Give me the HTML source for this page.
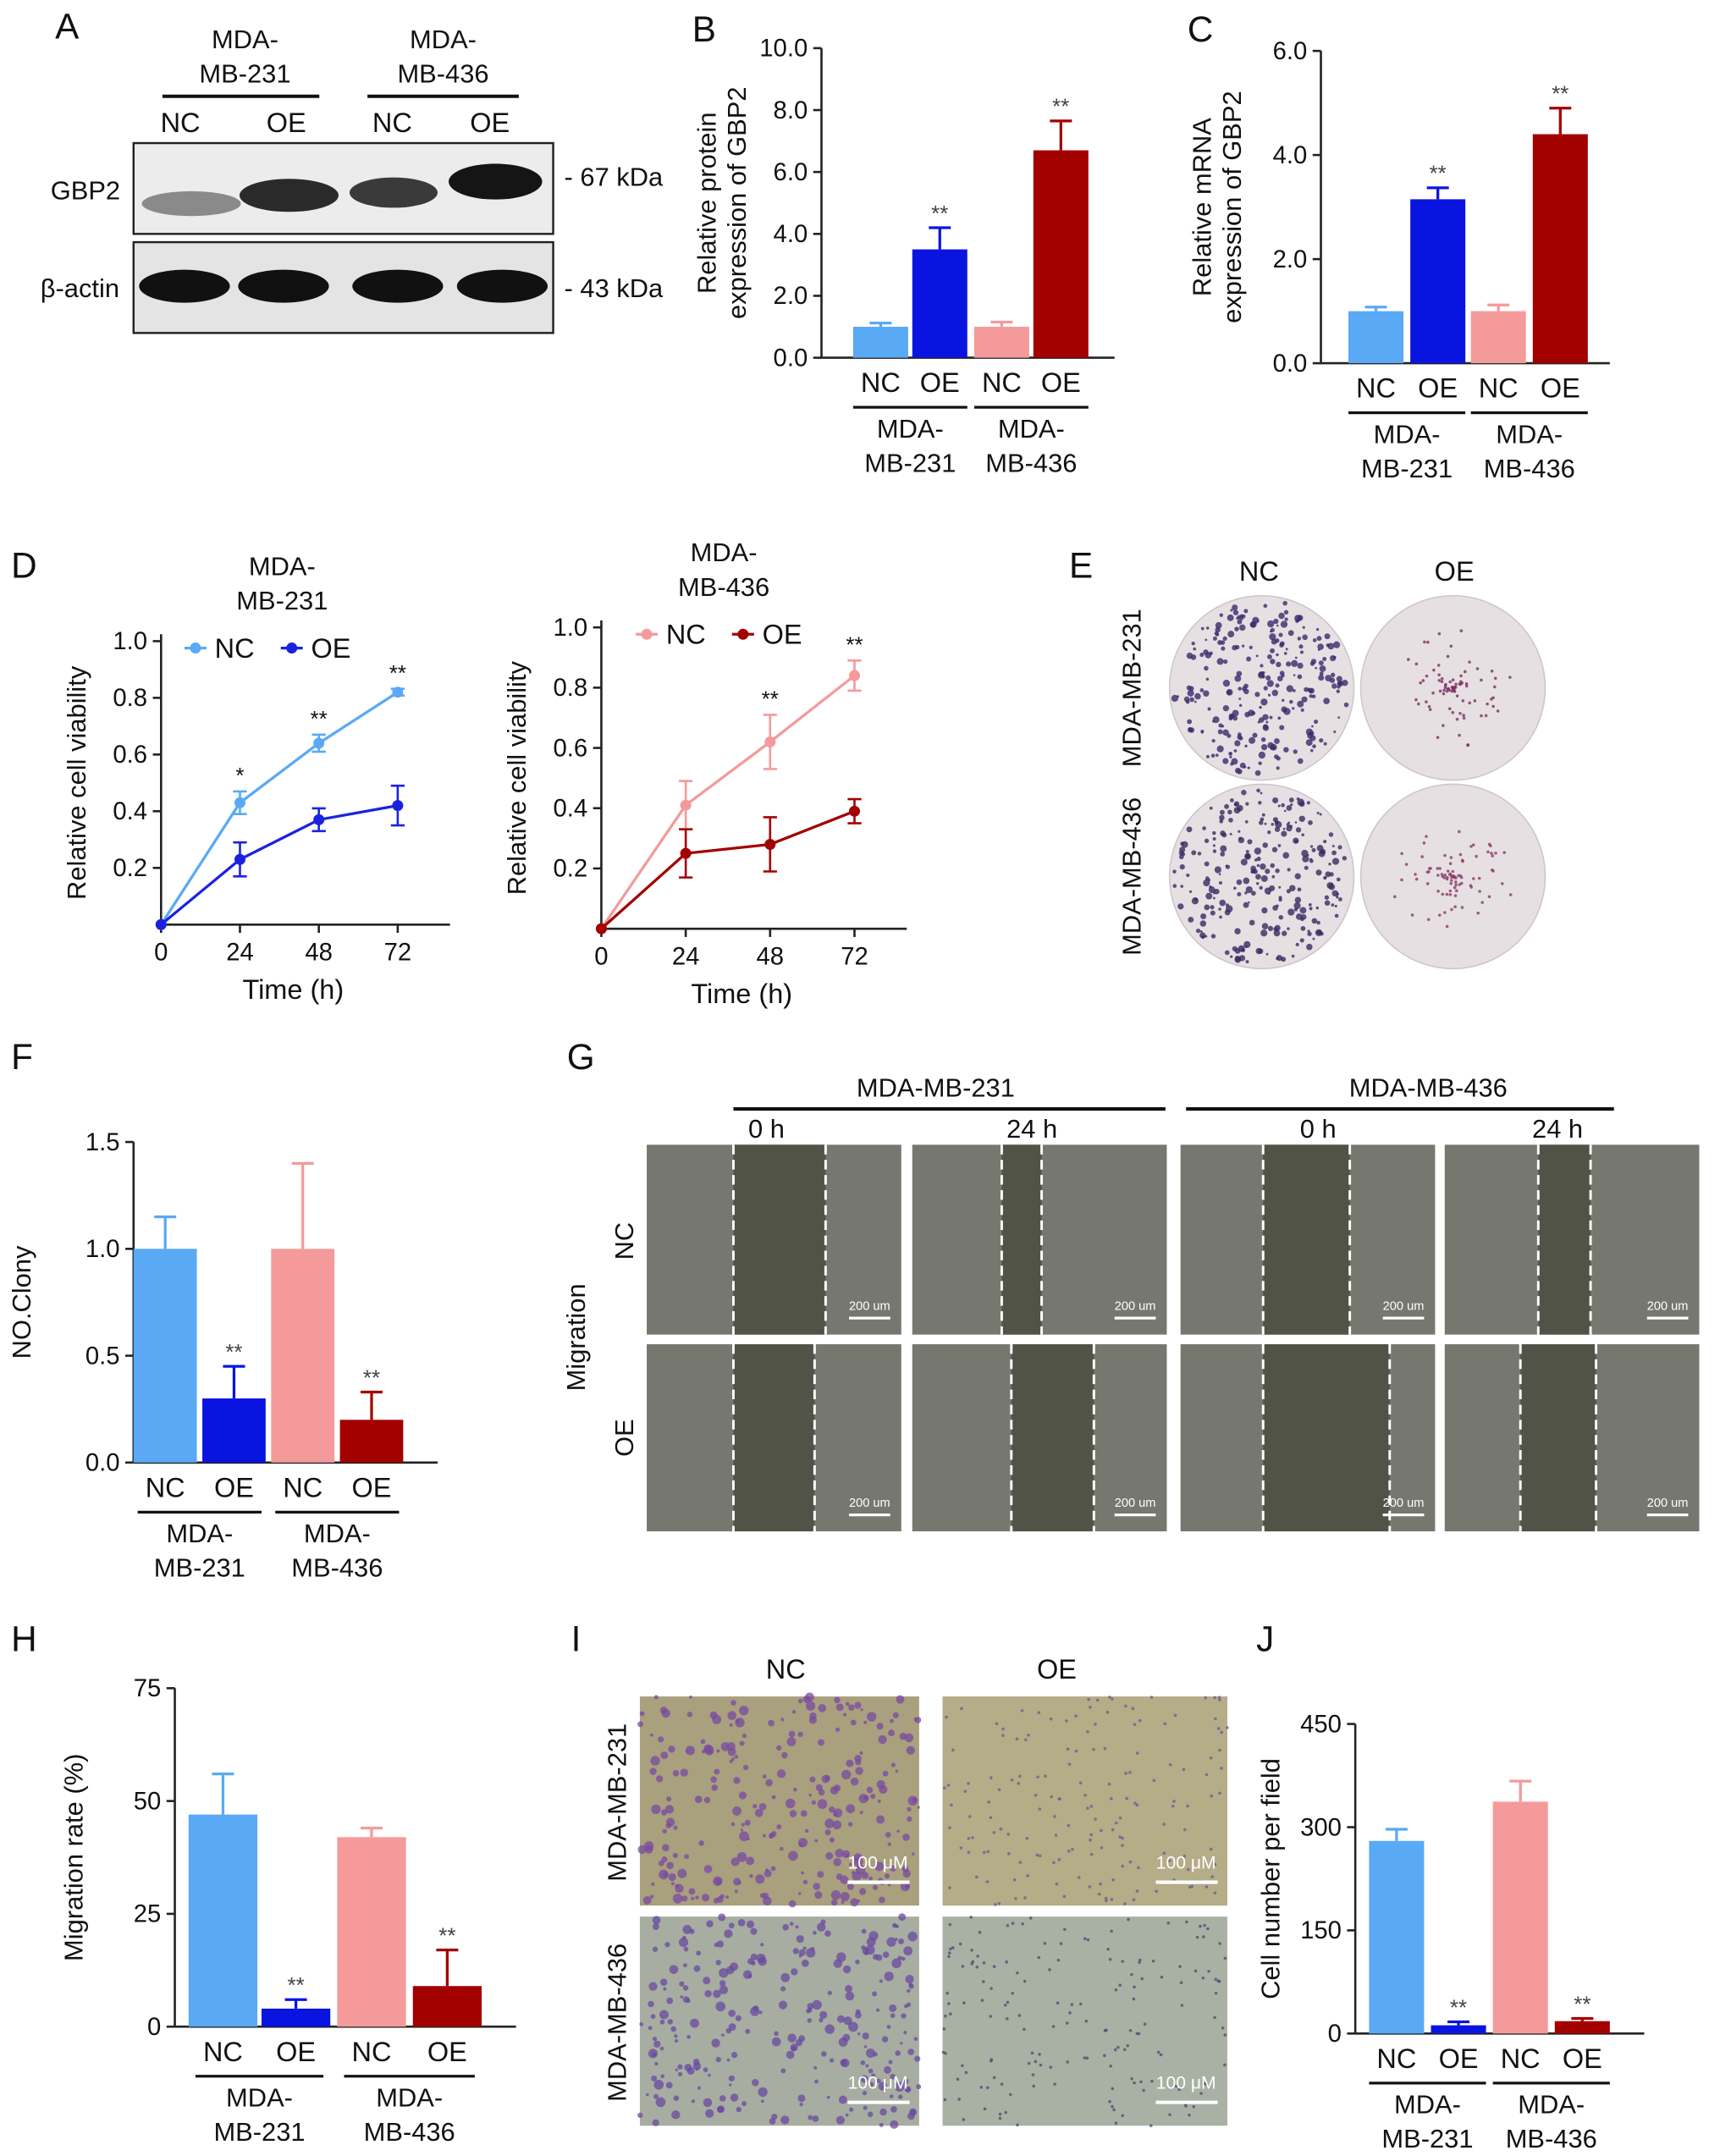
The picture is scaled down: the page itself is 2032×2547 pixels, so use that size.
<!DOCTYPE html>
<html><head><meta charset="utf-8"><style>
html,body{margin:0;padding:0;background:#fff}
svg{display:block;font-family:"Liberation Sans",Arial,sans-serif}
</style></head><body>
<svg id="fig" width="2032" height="2547" viewBox="0 0 1250 1567" xmlns="http://www.w3.org/2000/svg"></svg>
<script>
// ---- data ----
const barCats = ["NC","OE","NC","OE"];
const groupLabels = ["MDA-MB-231","MDA-MB-436"];
const colors = ["#59a9f5","#0a14e0","#f49a9a","#a30000"];
const bValues = [1.0,3.5,1.0,6.7];
const bErrors = [0.12,0.7,0.15,0.95];
const bTicks = ["0.0","2.0","4.0","6.0","8.0","10.0"];
const cValues = [1.0,3.15,1.0,4.4];
const cErrors = [0.08,0.22,0.12,0.5];
const cTicks = ["0.0","2.0","4.0","6.0"];
const fValues = [1.0,0.3,1.0,0.2];
const fErrors = [0.15,0.15,0.4,0.13];
const fTicks = ["0.0","0.5","1.0","1.5"];
const hValues = [47,4,42,9];
const hErrors = [9,2,2,8];
const hTicks = ["0","25","50","75"];
const jValues = [280,12,337,18];
const jErrors = [17,5,30,4];
const jTicks = ["0","150","300","450"];
const timePoints = [0,24,48,72];
const d231NC = [0,0.43,0.64,0.82], d231NCerr=[0,0.04,0.03,0.012];
const d231OE = [0,0.23,0.37,0.42], d231OEerr=[0,0.06,0.04,0.07];
const d436NC = [0,0.41,0.62,0.84], d436NCerr=[0,0.08,0.09,0.05];
const d436OE = [0,0.25,0.28,0.39], d436OEerr=[0,0.08,0.09,0.04];
const dStars = ["*","**","**"];

const NS="http://www.w3.org/2000/svg";
const svg=document.getElementById('fig');
function el(tag,attrs,parent){const e=document.createElementNS(NS,tag);for(const k in attrs)e.setAttribute(k,attrs[k]);(parent||svg).appendChild(e);return e;}
function txt(x,y,s,size,anchor,parent,extra){const t=el('text',Object.assign({x:x,y:y,'font-size':size,'text-anchor':anchor||'middle',fill:'#111'},extra||{}),parent);t.textContent=s;return t;}
function panelLetter(x,y,s){const t=txt(x,y,s,26,'start');}
let seed=12345;function rnd(){seed=(seed*1103515245+12345)%2147483648;return seed/2147483648;}

function barChart(o){
  const g=el('g',{});
  
  
  const y=v=>o.y0-(v/o.max)*(o.y0-o.ytop);
  el('line',{x1:o.ax,y1:o.ytop,x2:o.ax,y2:o.y0,stroke:'#222','stroke-width':1.6},g);
  el('line',{x1:o.ax,y1:o.y0,x2:o.xend,y2:o.y0,stroke:'#222','stroke-width':1.6},g);
  o.ticks.forEach((t,i)=>{const v=i*o.max/(o.ticks.length-1);const yy=y(v);
    el('line',{x1:o.ax-6,y1:yy,x2:o.ax,y2:yy,stroke:'#222','stroke-width':1.6},g);
    txt(o.ax-10,yy+6,t,18,'end',g);});
  const centers=[];
  o.values.forEach((v,i)=>{const x=o.bx[i];const w=o.bw;const yt=y(v);
    const r=el('rect',{x:x,y:yt,width:w,height:o.y0-yt,fill:colors[i]},g);
    
    
    const ye=y(v+o.errors[i]);const cx=x+w/2;
    el('line',{x1:cx,y1:yt,x2:cx,y2:ye,stroke:colors[i],'stroke-width':2},g);
    el('line',{x1:cx-8,y1:ye,x2:cx+8,y2:ye,stroke:colors[i],'stroke-width':2},g);
    if(i%2==1) txt(cx,ye-5,'**',16,'middle',g,{fill:'#444'});
    centers.push(cx);
    txt(cx,o.y0+25,barCats[i],20,'middle',g);});
  [0,1].forEach(k=>{const a=centers[2*k]-20,b=centers[2*k+1]+20;
    el('line',{x1:a,y1:o.y0+36,x2:b,y2:o.y0+36,stroke:'#111','stroke-width':2},g);
    const m=(a+b)/2;txt(m,o.y0+58,'MDA-',19,'middle',g);txt(m,o.y0+83,groupLabels[k].slice(4),19,'middle',g);});
  o.title.forEach((s,i)=>{txt(0,0,s,19,'middle',g,{transform:`translate(${o.tx+i*22},${(o.ytop+o.y0)/2}) rotate(-90)`});});
}
barChart({name:'chart-b',ax:597,ytop:35,y0:260,max:10,xend:810,ticks:bTicks,values:bValues,errors:bErrors,bx:[620,663,708,751],bw:40,title:['Relative protein','expression of GBP2'],tx:520});
barChart({name:'chart-c',ax:960,ytop:37,y0:264,max:6,xend:1170,ticks:cTicks,values:cValues,errors:cErrors,bx:[980,1025,1069,1114],bw:40,title:['Relative mRNA','expression of GBP2'],tx:880});
barChart({name:'chart-f',ax:97,ytop:830,y0:1063,max:1.5,xend:318,ticks:fTicks,values:fValues,errors:fErrors,bx:[97,147,197,247],bw:46,title:['NO.Clony'],tx:22});
barChart({name:'chart-h',ax:127,ytop:1227,y0:1473,max:75,xend:375,ticks:hTicks,values:hValues,errors:hErrors,bx:[137,190,245,300],bw:50,title:['Migration rate (%)'],tx:60});
barChart({name:'chart-j',ax:985,ytop:1253,y0:1478,max:450,xend:1195,ticks:jTicks,values:jValues,errors:jErrors,bx:[995,1040,1085,1130],bw:40,title:['Cell number per field'],tx:930});

function lineChart(o){
  const g=el('g',{});
  
  
  const y=v=>o.y0-v*(o.y0-o.ytop);
  const x=t=>o.ax+t/72*(o.x72-o.ax);
  el('line',{x1:o.ax,y1:o.ytop-5,x2:o.ax,y2:o.y0,stroke:'#222','stroke-width':1.6},g);
  el('line',{x1:o.ax,y1:o.y0,x2:o.x72+38,y2:o.y0,stroke:'#222','stroke-width':1.6},g);
  [0.2,0.4,0.6,0.8,1.0].forEach(v=>{el('line',{x1:o.ax-6,y1:y(v),x2:o.ax,y2:y(v),stroke:'#222','stroke-width':1.6},g);txt(o.ax-10,y(v)+6,v.toFixed(1),18,'end',g);});
  timePoints.forEach(t=>{el('line',{x1:x(t),y1:o.y0,x2:x(t),y2:o.y0+6,stroke:'#222','stroke-width':1.6},g);txt(x(t),o.y0+26,String(t),18,'middle',g);});
  txt((o.ax+o.x72)/2+10,o.y0+54,'Time (h)',20,'middle',g);
  txt(0,0,'Relative cell viability',19,'middle',g,{transform:`translate(${o.ax-55},${(o.ytop+o.y0)/2}) rotate(-90)`});
  [[o.nc,o.ncErr,o.c1],[o.oe,o.oeErr,o.c2]].forEach(([vals,errs,c])=>{
    el('polyline',{points:vals.map((v,i)=>x(timePoints[i])+','+y(v)).join(' '),fill:'none',stroke:c,'stroke-width':2},g);
    vals.forEach((v,i)=>{const cx=x(timePoints[i]);
      if(errs[i]>0){el('line',{x1:cx,y1:y(v-errs[i]),x2:cx,y2:y(v+errs[i]),stroke:c,'stroke-width':1.6},g);
      [v-errs[i],v+errs[i]].forEach(e=>el('line',{x1:cx-5,y1:y(e),x2:cx+5,y2:y(e),stroke:c,'stroke-width':1.6},g));}
      el('circle',{cx:cx,cy:y(v),r:4,fill:c},g);});
  });
  o.nc.slice(1).forEach((v,i)=>{if(o.stars[i])txt(x(timePoints[i+1]),y(v+o.ncErr[i+1])-6,o.stars[i],16,'middle',g);});
  txt(o.tcx,o.ytop-48,'MDA-',19,'middle',g);txt(o.tcx,o.ytop-23,o.tt,19,'middle',g);
  const lx=o.lx,ly=o.ytop+5;
  el('line',{x1:lx,y1:ly,x2:lx+16,y2:ly,stroke:o.c1,'stroke-width':2},g);el('circle',{cx:lx+8,cy:ly,r:4,fill:o.c1},g);txt(lx+22,ly+7,'NC',20,'start',g);
  el('line',{x1:lx+70,y1:ly,x2:lx+86,y2:ly,stroke:o.c2,'stroke-width':2},g);el('circle',{cx:lx+78,cy:ly,r:4,fill:o.c2},g);txt(lx+92,ly+7,'OE',20,'start',g);
}
lineChart({name:'chart-d-231',ax:117,x72:289,ytop:466,y0:672,nc:d231NC,ncErr:d231NCerr,oe:d231OE,oeErr:d231OEerr,c1:'#59a9f5',c2:'#1a22e0',stars:dStars,tcx:205,tt:'MB-231',lx:134});
lineChart({name:'chart-d-436',ax:437,x72:621,ytop:456,y0:675,nc:d436NC,ncErr:d436NCerr,oe:d436OE,oeErr:d436OEerr,c1:'#f49a9a',c2:'#a30000',stars:[null,'**','**'],tcx:526,tt:'MB-436',lx:462});

panelLetter(40,28,'A');panelLetter(503,30,'B');panelLetter(863,30,'C');panelLetter(8,420,'D');panelLetter(777,420,'E');
panelLetter(8,777,'F');panelLetter(412,777,'G');panelLetter(8,1200,'H');panelLetter(415,1200,'I');panelLetter(913,1200,'J');

// ---- Panel A western blot ----
const wb=el('g',{});
txt(178,35,'MDA-',19,'middle',wb);txt(178,60,'MB-231',19,'middle',wb);txt(322,35,'MDA-',19,'middle',wb);txt(322,60,'MB-436',19,'middle',wb);
el('line',{x1:118,y1:70,x2:232,y2:70,stroke:'#111','stroke-width':2.5},wb);el('line',{x1:267,y1:70,x2:377,y2:70,stroke:'#111','stroke-width':2.5},wb);
[[131,'NC'],[208,'OE'],[285,'NC'],[356,'OE']].forEach(([x,s])=>txt(x,96,s,20,'middle',wb));
el('rect',{x:97,y:104,width:305,height:66,fill:'#ececec',stroke:'#222','stroke-width':1.5},wb);
el('rect',{x:97,y:176,width:305,height:66,fill:'#e4e4e4',stroke:'#222','stroke-width':1.5},wb);
[[139,148,36,9,'#8a8a8a'],[210,142,36,12,'#2a2a2a'],[286,140,32,11,'#3a3a3a'],[360,132,34,13,'#151515']].forEach(b=>el('ellipse',{cx:b[0],cy:b[1],rx:b[2],ry:b[3],fill:b[4]},wb));
[134,206,289,365].forEach(x=>el('ellipse',{cx:x,cy:208,rx:33,ry:12,fill:'#111'},wb));
txt(62,145,'GBP2',19,'middle',wb);txt(58,216,'β-actin',19,'middle',wb);
txt(410,135,'- 67 kDa',19,'start',wb);txt(410,216,'- 43 kDa',19,'start',wb);

// ---- Panel E colonies ----
const eg=el('g',{});
txt(915,422,'NC',20,'middle',eg);txt(1057,422,'OE',20,'middle',eg);
txt(0,0,'MDA-MB-231',19,'middle',eg,{transform:'translate(829,500) rotate(-90)'});
txt(0,0,'MDA-MB-436',19,'middle',eg,{transform:'translate(829,637) rotate(-90)'});
[[917,500,'#3a2a6a'],[1056,500,'#7a3060'],[917,637,'#3a2a60'],[1056,637,'#8a3a6a']].forEach(([cx,cy,c],k)=>{
  el('circle',{cx:cx,cy:cy,r:67,fill:'#e6e0e3',stroke:'#cfc6cc'},eg);
  const n=k%2?90:260, R=k%2?45:64;
  for(let i=0;i<n;i++){const a=rnd()*Math.PI*2;const rr=R*(k%2?Math.pow(rnd(),1.6):Math.sqrt(rnd()));
    el('circle',{cx:cx+rr*Math.cos(a),cy:cy+rr*Math.sin(a),r:k%2?1.1:0.8+rnd()*1.8,fill:c,opacity:0.8},eg);}
});

// ---- Panel G migration ----
const gg=el('g',{});
txt(680,797,'MDA-MB-231',19,'middle',gg);txt(1038,797,'MDA-MB-436',19,'middle',gg);
el('line',{x1:533,y1:806,x2:847,y2:806,stroke:'#111','stroke-width':2.5},gg);el('line',{x1:862,y1:806,x2:1173,y2:806,stroke:'#111','stroke-width':2.5},gg);
[[557,'0 h'],[750,'24 h'],[958,'0 h'],[1132,'24 h']].forEach(([x,s])=>txt(x,827,s,19,'middle',gg));
txt(0,0,'Migration',19,'middle',gg,{transform:'translate(425,972) rotate(-90)'});
txt(0,0,'NC',19,'middle',gg,{transform:'translate(460,902) rotate(-90)'});
txt(0,0,'OE',19,'middle',gg,{transform:'translate(460,1045) rotate(-90)'});
const gx=[470,663,858,1050],gw=[185,185,185,185],gy=[832,977],gh=[138,136];
const gaps=[[[533,600],[728,757],[918,981],[1118,1156]],[[533,592],[735,795],[918,1010],[1105,1160]]];
gy.forEach((yy,r)=>gx.forEach((xx,c)=>{
  el('rect',{x:xx,y:yy,width:gw[c],height:gh[r],fill:'#76786f'},gg);
  const [a,b]=gaps[r][c];el('rect',{x:a,y:yy,width:b-a,height:gh[r],fill:'#505346'},gg);
  el('line',{x1:a,y1:yy,x2:a,y2:yy+gh[r],stroke:'#fff','stroke-width':1.8,'stroke-dasharray':'7,4'},gg);
  el('line',{x1:b,y1:yy,x2:b,y2:yy+gh[r],stroke:'#fff','stroke-width':1.8,'stroke-dasharray':'7,4'},gg);
  el('line',{x1:xx+gw[c]-38,y1:yy+gh[r]-12,x2:xx+gw[c]-8,y2:yy+gh[r]-12,stroke:'#fff','stroke-width':2},gg);
  txt(xx+gw[c]-23,yy+gh[r]-18,'200 um',9,'middle',gg,{fill:'#fff'});
}));

// ---- Panel I transwell ----
const ig=el('g',{});
txt(571,1220,'NC',20,'middle',ig);txt(768,1220,'OE',20,'middle',ig);
txt(0,0,'MDA-MB-231',19,'middle',ig,{transform:'translate(455,1310) rotate(-90)'});
txt(0,0,'MDA-MB-436',19,'middle',ig,{transform:'translate(455,1470) rotate(-90)'});
[[465,1233,'#a9a07e','#7a4aa0'],[685,1233,'#b5ac88','#6a5a90'],[465,1393,'#a7ada0','#6a4aa0'],[685,1393,'#a9b1a4','#4a4a70']].forEach(([x,y,bg,c],k)=>{
  const w=k%2?207:203;
  el('rect',{x:x,y:y,width:w,height:152,fill:bg},ig);
  const n=k%2?160:260;
  for(let i=0;i<n;i++){const px=x+rnd()*w,py=y+rnd()*152;
    el('circle',{cx:px,cy:py,r:k%2?1.1:1+rnd()*2.6,fill:c,opacity:0.75},ig);}
  el('line',{x1:x+w-52,y1:y+135,x2:x+w-7,y2:y+135,stroke:'#fff','stroke-width':2.5},ig);
  txt(x+w-30,y+125,'100 μM',13,'middle',ig,{fill:'#fff'});
});
</script>
</body></html>
